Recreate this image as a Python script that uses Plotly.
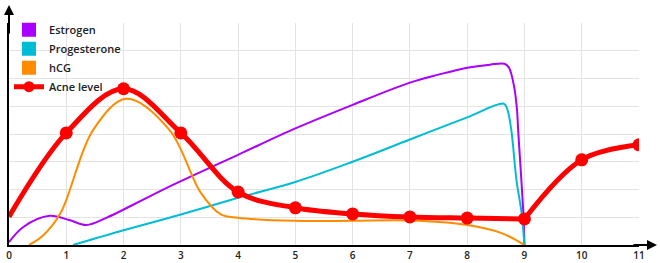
import plotly.graph_objects as go

# Acne level (markers at integer months)
acne_x = [0, 1, 2, 3, 4, 5, 6, 7, 8, 9, 10, 11]
acne_y = [1.02, 4.04, 5.63, 4.04, 1.91, 1.34, 1.12, 1.01, 0.97, 0.94, 3.07, 3.61]

estrogen_x = [0, 0.25, 0.71, 1.05, 1.35, 1.7, 2.5, 3, 4, 5, 6, 7, 7.5, 8, 8.4, 8.65, 8.73, 8.82, 8.87, 8.89, 8.98, 9.0]
estrogen_y = [0.1, 0.65, 1.05, 0.9, 0.72, 0.98, 1.8, 2.3, 3.25, 4.2, 5.05, 5.85, 6.14, 6.39, 6.5, 6.53, 6.39, 5.7, 4.87, 4.15, 1.15, 0.0]

progesterone_x = [1.12, 2, 3, 4, 5, 6, 7, 8, 8.64, 8.7, 8.77, 8.86, 8.95, 9.0]
progesterone_y = [0.0, 0.53, 1.1, 1.7, 2.27, 3.0, 3.8, 4.6, 5.09, 4.9, 4.15, 2.35, 1.15, 0.0]

hcg_x = [0.35, 0.6, 0.9, 1.47, 2.05, 2.8, 3.35, 3.7, 4, 5, 6, 7, 8, 8.6, 9]
hcg_y = [0.0, 0.35, 1.15, 4.15, 5.27, 4.15, 1.88, 1.1, 0.98, 0.87, 0.87, 0.88, 0.72, 0.43, 0.0]

x_ticks = list(range(0, 12))
x_labels = [str(v) for v in x_ticks]

c_est = "#aa00ff"
c_pro = "#00bcd4"
c_hcg = "#ff8c00"
c_acne = "#ff0000"

fig = go.Figure()
fig.add_trace(go.Scatter(x=estrogen_x, y=estrogen_y, mode="lines", showlegend=False,
                         line=dict(color=c_est, width=2, shape="spline", smoothing=1.0)))
fig.add_trace(go.Scatter(x=progesterone_x, y=progesterone_y, mode="lines", showlegend=False,
                         line=dict(color=c_pro, width=2, shape="spline", smoothing=1.0)))
fig.add_trace(go.Scatter(x=hcg_x, y=hcg_y, mode="lines", showlegend=False,
                         line=dict(color=c_hcg, width=2, shape="spline", smoothing=1.0)))
# acne curve: smooth up to month 9, then rising again after it
fig.add_trace(go.Scatter(x=acne_x[:10], y=acne_y[:10], mode="lines", showlegend=False,
                         line=dict(color=c_acne, width=5, shape="spline", smoothing=1.0)))
fig.add_trace(go.Scatter(x=acne_x[9:], y=acne_y[9:], mode="lines", showlegend=False,
                         line=dict(color=c_acne, width=5, shape="spline", smoothing=1.0)))
fig.add_trace(go.Scatter(x=acne_x[1:], y=acne_y[1:], mode="markers", showlegend=False,
                         marker=dict(color=c_acne, size=13)))

# legend-only entries
for name, col in [("Estrogen", c_est), ("Progesterone", c_pro), ("hCG", c_hcg)]:
    fig.add_trace(go.Scatter(x=[None], y=[None], mode="markers", name=name,
                             marker=dict(symbol="square", size=14, color=col)))
fig.add_trace(go.Scatter(x=[None], y=[None], mode="lines+markers", name="Acne level",
                         line=dict(color=c_acne, width=5), marker=dict(color=c_acne, size=11)))

fig.update_layout(
    width=660, height=263,
    margin=dict(l=9, r=21, t=23, b=18),
    paper_bgcolor="white", plot_bgcolor="white",
    font=dict(family="Open Sans", color="#222"),
    legend=dict(x=0.0, y=1.035, xanchor="left", yanchor="top", bgcolor="rgba(0,0,0,0)",
                font=dict(size=11, family="Open Sans", weight=600, color="#222"),
                tracegroupgap=0, itemwidth=30),
    xaxis=dict(range=[0, 11], tickvals=x_ticks, ticktext=x_labels, showgrid=True,
               gridcolor="#e3e3e3", gridwidth=1, zeroline=False, showline=True,
               linecolor="black", linewidth=2, ticks="", automargin=False,
               tickfont=dict(size=10, family="Open Sans", weight=600, color="#222")),
    yaxis=dict(range=[0, 8], dtick=1, showgrid=True, gridcolor="#e3e3e3", gridwidth=1,
               zeroline=False, showline=True, linecolor="black", linewidth=2,
               showticklabels=False, ticks="", automargin=False),
    annotations=[
        dict(xref="paper", yref="paper", x=(657 - 9) / 630, y=0, ax=-25, ay=0,
             text="", showarrow=True, arrowhead=2, arrowsize=1, arrowwidth=2,
             arrowcolor="black", standoff=0),
        dict(xref="paper", yref="paper", x=0, y=(245 - 5) / 222, ax=0, ay=30,
             text="", showarrow=True, arrowhead=2, arrowsize=1, arrowwidth=2,
             arrowcolor="black", standoff=0),
    ],
)

fig.write_html("out.html")
